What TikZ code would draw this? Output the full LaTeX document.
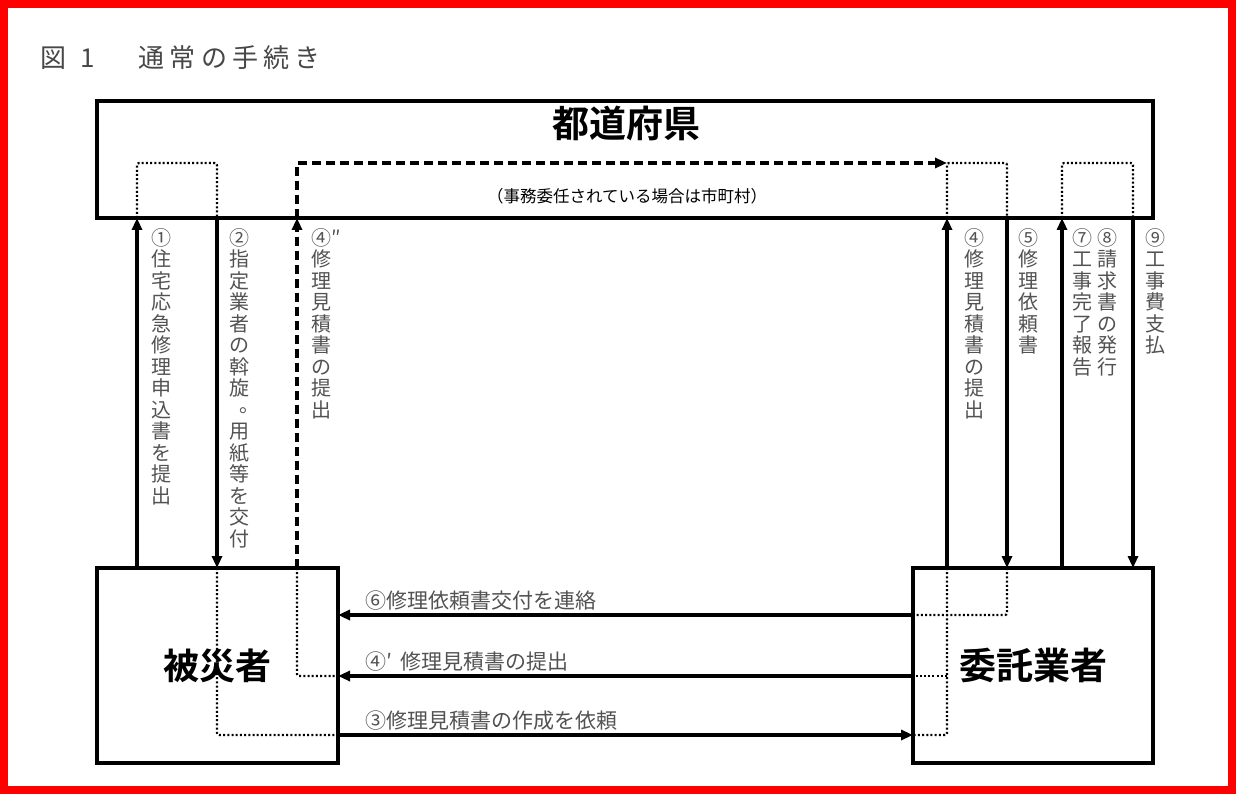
\documentclass[tikz,border=0pt]{standalone}
\usepackage{fontspec}
\setmainfont{Noto Sans CJK JP}[BoldFont={Noto Sans CJK JP Bold}]
\usetikzlibrary{arrows.meta}

\makeatletter
\newcommand\tate[1]{\vbox{\baselineskip=21.5pt\lineskiplimit=-30pt\@tfor\tate@c:=#1\do{\hbox to 20pt{\hss\tate@c\hss}}}}
\makeatother
\newcommand\tatemaru{\rlap{\raisebox{5pt}{\hspace{10pt}。}}\hspace{19pt}}

\tikzset{
  box/.style={draw, line width=3.2pt, inner sep=0pt},
  flow/.style={line width=3.2pt, -{Triangle[length=12pt,width=10pt]}},
  dots/.style={line width=2.2pt, dash pattern=on 2pt off 2.2pt, rounded corners=2pt},
  dashes/.style={line width=3.2pt, dash pattern=on 9pt off 5pt},
  hlabel/.style={anchor=west, inner sep=0pt, text=black!68, font=\fontsize{21}{21}\selectfont},
  vlabel/.style={anchor=north, inner sep=0pt, text=black!68, font=\fontsize{20}{20}\selectfont},
}

\begin{document}
\begin{tikzpicture}[x=1pt,y=-1pt]
\useasboundingbox (0,0) rectangle (1236,794);
\draw[red, line width=8pt] (4,4) rectangle (1232,790);

\node[anchor=west, inner sep=0pt, text=black!72, font=\fontsize{26}{26}\selectfont] (title) at (40,58)
  {図\hspace{14pt}1\hspace{44pt}{\addfontfeature{LetterSpace=20}通常の手続き}};

% boxes
\node[box, minimum width=1056pt, minimum height=117pt] (pref) at (625,159.5) {};
\node[inner sep=0pt, font=\fontsize{37}{37}\selectfont\bfseries] (preftxt) at (626,124) {都道府県};
\node[inner sep=0pt, font=\fontsize{16.5}{16.5}\selectfont] (delegate) at (627,196) {（事務委任されている場合は市町村）};
\node[box, minimum width=241pt, minimum height=195pt, font=\fontsize{36}{36}\selectfont\bfseries] (victim) at (217.5,665.5) {被災者};
\node[box, minimum width=240pt, minimum height=195pt, font=\fontsize{37}{37}\selectfont\bfseries] (contractor) at (1033,665.5) {委託業者};

% ends of the vertical links
\foreach \n/\x in {1/137, 2/217, 3/297, 4/947, 5/1007, 7/1062, 9/1133} {
  \coordinate (top\n) at (\x,218);
  \coordinate (bot\n) at (\x,568);
  \coordinate (loop\n) at (\x,163);
}
% ends of the horizontal links
\foreach \n/\y in {6/615, 4/676, 3/735} {
  \coordinate (l\n) at (338,\y);
  \coordinate (r\n) at (913,\y);
}

\draw[flow] (bot1) -- (top1);
\draw[flow] (top2) -- (bot2);
\draw[flow, dashes] (bot3) -- (top3);
\draw[flow] (bot4) -- (top4);
\draw[flow] (top5) -- (bot5);
\draw[flow] (bot7) -- (top7);
\draw[flow] (top9) -- (bot9);

\draw[dots] (top1) -- (loop1) -- (loop2) -- (top2);
\draw[flow, dashes] (top3) -- (loop3) -- (loop4);
\draw[dots] (top4) -- (loop4) -- (loop5) -- (top5);
\draw[dots] (top7) -- (loop7) -- (loop9) -- (top9);

\draw[flow] (r6) -- (l6);
\draw[flow] (r4) -- (l4);
\draw[flow] (l3) -- (r3);

\draw[dots] (bot2) |- (l3);
\draw[dots] (bot3) |- (l4);
\draw[dots] (bot4) |- (r3);
\draw[dots] (bot4 |- r4) -- (r4);
\draw[dots] (bot5) |- (r6);

% labels
\node[vlabel] (lab1) at (161,228) {\tate{①住宅応急修理申込書を提出}};
\node[vlabel] (lab2) at (239,228) {\tate{②指定業者の斡旋{\tatemaru}用紙等を交付}};
\node[vlabel] (lab4b) at (321,228) {\tate{{④\rlap{″}}修理見積書の提出}};
\node[vlabel] (lab4) at (974,228) {\tate{④修理見積書の提出}};
\node[vlabel] (lab5) at (1028,228) {\tate{⑤修理依頼書}};
\node[vlabel] (lab7) at (1082,228) {\tate{⑦工事完了報告}};
\node[vlabel] (lab8) at (1107,228) {\tate{⑧請求書の発行}};
\node[vlabel] (lab9) at (1155,228) {\tate{⑨工事費支払}};

\node[hlabel] (lab6) at (365,601) {⑥修理依頼書交付を連絡};
\node[hlabel] (lab4a) at (365,662) {④′\hspace{8pt}修理見積書の提出};
\node[hlabel] (lab3) at (365,721) {③修理見積書の作成を依頼};
\end{tikzpicture}
\end{document}
